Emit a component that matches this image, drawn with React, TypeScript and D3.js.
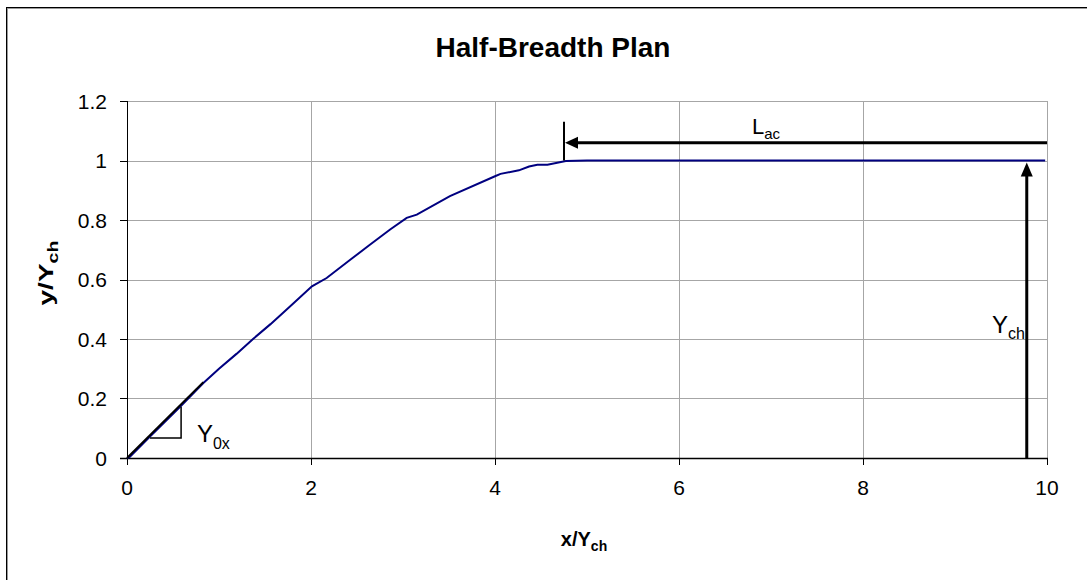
import React from "react";
import * as d3 from "d3";

const curveX = [0, 0.03, 0.25, 0.58, 0.83, 1.0, 1.19, 1.37, 1.56, 1.81, 2.01, 2.17, 2.43, 2.64, 2.86, 3.04, 3.15, 3.51, 4.0, 4.06, 4.26, 4.37, 4.46, 4.57, 4.77, 5, 6, 7, 8, 9, 9.98];
const curveY = [0, 0.004, 0.072, 0.173, 0.252, 0.3, 0.35, 0.4, 0.45, 0.52, 0.577, 0.605, 0.667, 0.717, 0.768, 0.807, 0.818, 0.88, 0.947, 0.955, 0.967, 0.98, 0.986, 0.986, 0.998, 1, 1, 1, 1, 1, 1];
const xTicks = [0, 2, 4, 6, 8, 10];
const yTicks = [0, 0.2, 0.4, 0.6, 0.8, 1, 1.2];

// annotation anchors (data units)
const lacStartX = 4.75;
const lacY = 1.06;
const lacTopY = 1.13;
const ychX = 9.78;
const tangentEnd = [0.83, 0.255];
const triangle = [[0.25, 0.067], [0.588, 0.067], [0.588, 0.172]];

const W = 1087;
const H = 580;
const FONT = "'Liberation Sans', Arial, sans-serif";

export default function App() {
  const x = d3.scaleLinear().domain([0, 10]).range([127, 1047]);
  const y = d3.scaleLinear().domain([0, 1.2]).range([458, 101]);
  const pts: [number, number][] = curveX.map((v, i) => [v, curveY[i]]);
  const line = d3.line<[number, number]>().x((d) => x(d[0])).y((d) => y(d[1]));
  const triPath = d3.line<number[]>().x((d) => x(d[0])).y((d) => y(d[1]))(triangle) as string;

  const lacX0 = x(lacStartX);
  const lacX1 = x(10);
  const lacYp = y(lacY);
  const ychXp = x(ychX);

  return (
    <svg width={W} height={H} style={{ position: "absolute", left: 0, top: 0, fontFamily: FONT }}>
      <rect x={0} y={0} width={W} height={H} fill="#fff" />
      {/* outer frame */}
      <rect x={7.5} y={8.5} width={1200} height={700} fill="none" stroke="#999" strokeWidth={1} />
      <rect x={6.5} y={7.5} width={1200} height={700} fill="none" stroke="#000" strokeWidth={1} />

      <text x={553} y={57} textAnchor="middle" fontSize={28} fontWeight="bold">Half-Breadth Plan</text>

      {/* gridlines */}
      {xTicks.filter((t) => t > 0).map((t) => (
        <line key={"gx" + t} x1={x(t) + 0.5} x2={x(t) + 0.5} y1={y(1.2)} y2={y(0)} stroke="#a6a6a6" strokeWidth={1} />
      ))}
      {yTicks.filter((t) => t > 0).map((t) => (
        <line key={"gy" + t} x1={x(0)} x2={x(10)} y1={Math.round(y(t)) + 0.5} y2={Math.round(y(t)) + 0.5} stroke="#a6a6a6" strokeWidth={1} />
      ))}

      {/* axes */}
      <line x1={x(0) + 0.5} x2={x(0) + 0.5} y1={y(1.2)} y2={y(0) + 1} stroke="#000" strokeWidth={1} />
      <line x1={x(0) - 7} x2={x(10) + 1} y1={y(0) + 0.5} y2={y(0) + 0.5} stroke="#000" strokeWidth={1.3} />
      {yTicks.map((t) => (
        <g key={"yt" + t}>
          <line x1={x(0) - 7} x2={x(0)} y1={Math.round(y(t)) + 0.5} y2={Math.round(y(t)) + 0.5} stroke="#000" />
          <text x={107} y={y(t) + 7.5} textAnchor="end" fontSize={21}>{t}</text>
        </g>
      ))}
      {xTicks.map((t) => (
        <g key={"xt" + t}>
          <line x1={x(t) + 0.5} x2={x(t) + 0.5} y1={y(0)} y2={y(0) + 7} stroke="#000" />
          <text x={x(t)} y={495} textAnchor="middle" fontSize={21}>{t}</text>
        </g>
      ))}

      {/* axis titles */}
      <text x={584} y={546} textAnchor="middle" fontSize={20} fontWeight="bold">
        x/Y<tspan fontSize={14} dy={5}>ch</tspan>
      </text>
      <text transform="translate(53,273) rotate(-90) scale(1.4,1.05)" textAnchor="middle" fontSize={20} fontWeight="bold">
        y/Y<tspan fontSize={14} dy={5}>ch</tspan>
      </text>

      {/* curve */}
      <path d={line(pts) as string} fill="none" stroke="#000080" strokeWidth={2} />

      {/* slope triangle */}
      <line x1={x(0)} y1={y(0)} x2={x(tangentEnd[0])} y2={y(tangentEnd[1])} stroke="#000" strokeWidth={2} />
      <path d={triPath} fill="none" stroke="#000" strokeWidth={1.5} />
      <text x={x(0.76)} y={y(0.054)} fontSize={24}>
        Y<tspan fontSize={16} dy={7}>0x</tspan>
      </text>

      {/* L_ac arrow */}
      <line x1={lacX0} x2={lacX0} y1={y(lacTopY)} y2={y(1)} stroke="#000" strokeWidth={2} />
      <line x1={lacX0 + 10} x2={lacX1} y1={lacYp} y2={lacYp} stroke="#000" strokeWidth={3} />
      <path d={`M${lacX0 + 1},${lacYp} L${lacX0 + 14},${lacYp - 6} L${lacX0 + 14},${lacYp + 6} Z`} fill="#000" />
      <text x={752} y={134} fontSize={22}>
        L<tspan fontSize={15} dy={5}>ac</tspan>
      </text>

      {/* Y_ch arrow */}
      <line x1={ychXp} x2={ychXp} y1={y(0)} y2={y(1) + 10} stroke="#000" strokeWidth={3} />
      <path d={`M${ychXp},${y(1) + 2} L${ychXp - 6},${y(1) + 16} L${ychXp + 6},${y(1) + 16} Z`} fill="#000" />
      <text x={992} y={333} fontSize={24}>
        Y<tspan fontSize={16} dy={6}>ch</tspan>
      </text>
    </svg>
  );
}
